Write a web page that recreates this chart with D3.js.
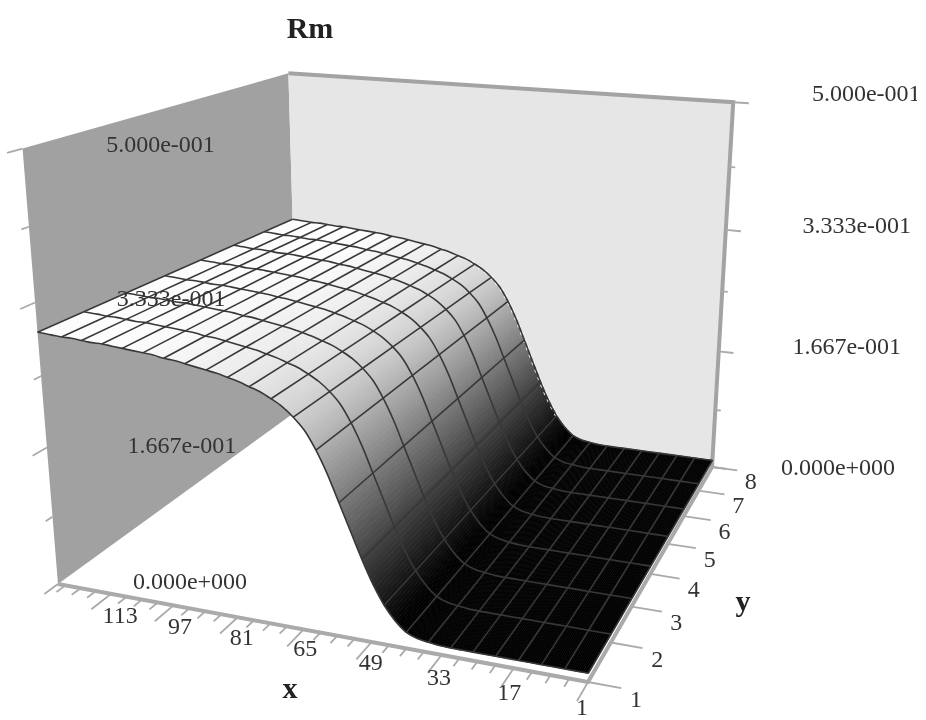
<!DOCTYPE html>
<html>
<head>
<meta charset="utf-8">
<script src="https://cdn.jsdelivr.net/npm/d3@7"></script>
<style>
  body { margin: 0; background: #fff; }
  svg { display: block; filter: blur(0.7px); }
  text { font-family: "Liberation Serif", serif; font-size: 24px; fill: #333; }
  .name { font-weight: bold; fill: #222; font-size: 30px; }
</style>
</head>
<body>
<div id="chart"></div>
<script>
// Rm, one value per mesh sample along x, with a small drop towards the back in y
const rmX = d3.range(1, 124, 2.5).concat(127);
const rmValues = [
  0.01, 0.01, 0.01, 0.01, 0.01, 0.01, 0.01, 0.01, 0.01, 0.01, 0.01, 0.01, 0.01,
  0.0105, 0.012, 0.014, 0.019, 0.03, 0.046, 0.068, 0.095, 0.125, 0.155, 0.185, 0.21, 0.23,
  0.243, 0.253, 0.26, 0.266, 0.27, 0.274, 0.277, 0.28, 0.282, 0.284, 0.286, 0.288, 0.289, 0.291,
  0.292, 0.293, 0.294, 0.295, 0.296, 0.296, 0.297, 0.298, 0.298, 0.299, 0.3
];
const yCats = [1, 2, 3, 4, 5, 6, 7, 8];
const yFactor = [1, 0.996, 0.992, 0.988, 0.984, 0.98, 0.976, 0.972];
const xTicks = [1, 17, 33, 49, 65, 81, 97, 113];
const zTicks = [0, 1 / 6, 1 / 3, 0.5];
const zLabels = ["0.000e+000", "1.667e-001", "3.333e-001", "5.000e-001"];
const zMinorTicks = [1 / 12, 0.25, 5 / 12];
const xEnd = 127, zTop = 0.5;

const xScale = d3.scaleLinear().domain([1, xEnd]).range([0, 1]);
const yScale = d3.scaleLinear().domain([1, 8]).range([0, 1]);
const zScale = d3.scaleLinear().domain([0, zTop]).range([0, 1]);
const shade = d3.scaleLinear().domain([0.025, 0.295]).range(["#000", "#fff"]).clamp(true);

// camera: floor corners and wall tops as seen in the picture
const floorFront = [588, 682], floorLeft = [58, 584], floorBack = [298, 410], floorRight = [712, 467];
const topLeft = [22, 150], topBack = [289, 77], topRight = [733, 97];

function floorMatrix(p0, p1, p2, p3) {
  const dx1 = p1[0] - p2[0], dx2 = p3[0] - p2[0], sx = p0[0] - p1[0] + p2[0] - p3[0];
  const dy1 = p1[1] - p2[1], dy2 = p3[1] - p2[1], sy = p0[1] - p1[1] + p2[1] - p3[1];
  const den = dx1 * dy2 - dx2 * dy1;
  const g = (sx * dy2 - dx2 * sy) / den, h = (dx1 * sy - sx * dy1) / den;
  return {
    a: p1[0] - p0[0] + g * p1[0], b: p3[0] - p0[0] + h * p3[0], c: p0[0],
    d: p1[1] - p0[1] + g * p1[1], e: p3[1] - p0[1] + h * p3[1], f: p0[1],
    g: g, h: h
  };
}
const H = floorMatrix(floorFront, floorLeft, floorBack, floorRight);

// height column, least squares on the three wall tops
function heightColumn() {
  const rows = [];
  [[1, 0, topLeft], [1, 1, topBack], [0, 1, topRight]].forEach(([u, v, s]) => {
    const X = H.a * u + H.b * v + H.c, Y = H.d * u + H.e * v + H.f, W = H.g * u + H.h * v + 1;
    rows.push([1, 0, -s[0], s[0] * W - X]);
    rows.push([0, 1, -s[1], s[1] * W - Y]);
  });
  const m = [0, 1, 2].map(i => [0, 1, 2, 3].map(j => d3.sum(rows, r => r[i] * r[j])));
  for (let i = 0; i < 3; i++) {
    for (let k = 0; k < 3; k++) {
      if (k === i) continue;
      const q = m[k][i] / m[i][i];
      for (let j = i; j < 4; j++) m[k][j] -= q * m[i][j];
    }
  }
  return [m[0][3] / m[0][0], m[1][3] / m[1][1], m[2][3] / m[2][2]];
}
const Z = heightColumn();

function project(x, y, z) {
  const u = xScale(x), v = yScale(y), w = zScale(z);
  const W = H.g * u + H.h * v + 1 + w * Z[2];
  return [
    (H.a * u + H.b * v + H.c + w * Z[0]) / W,
    (H.d * u + H.e * v + H.f + w * Z[1]) / W
  ];
}
// a surface point: height from the x profile, scaled by the row it sits on
const meshPoint = (x, yIdx, z) => project(x, yCats[yIdx], z * yFactor[yIdx]);

const svg = d3.select("#chart").append("svg").attr("width", 917).attr("height", 720);
const poly = pts => "M" + pts.map(p => p.join(",")).join("L") + "Z";

// walls
svg.append("path")
  .attr("d", poly([project(xEnd, 1, 0), project(xEnd, 1, zTop), project(xEnd, 8, zTop), project(xEnd, 8, 0)]))
  .attr("fill", "#a1a1a1");
svg.append("path")
  .attr("d", poly([project(xEnd, 8, 0), project(xEnd, 8, zTop), project(1, 8, zTop), project(1, 8, 0)]))
  .attr("fill", "#e6e6e6");

// axis frame
const frame = d3.line();
svg.append("path")
  .attr("d", frame([project(xEnd, 8, zTop), project(1, 8, zTop), project(1, 8, 0)]))
  .attr("fill", "none").attr("stroke", "#a3a3a3").attr("stroke-width", 4);
svg.append("path")
  .attr("d", frame([project(xEnd, 1, 0), project(1, 1, 0), project(1, 8, 0)]))
  .attr("fill", "none").attr("stroke", "#aaa").attr("stroke-width", 4);

function tick(a, b) {
  svg.append("line")
    .attr("x1", a[0]).attr("y1", a[1]).attr("x2", b[0]).attr("y2", b[1])
    .attr("stroke", "#aaa").attr("stroke-width", 1.8);
}
d3.range(1, xEnd, 4).forEach(x => {
  const major = (x - 1) % 16 === 0;
  tick(project(x, 1, 0), project(x, major ? 0.55 : 0.8, 0));
});
yCats.forEach(y => tick(project(1, y, 0), project(-6, y, 0)));
zTicks.forEach(z => {
  tick(project(1, 8, z), project(-3, 8, z));
  tick(project(xEnd, 1, z), project(xEnd, 0.7, z));
});
zMinorTicks.forEach(z => {
  tick(project(1, 8, z), project(-0.5, 8, z));
  tick(project(xEnd, 1, z), project(xEnd, 0.85, z));
});

// surface, far strips first; each sample gap is painted in thin bands so the shade runs smoothly
const surface = svg.append("g");
const bands = 6;
for (let i = rmX.length - 2; i >= 0; i--) {
  for (let k = bands - 1; k >= 0; k--) {
    const xa = d3.interpolateNumber(rmX[i], rmX[i + 1]), za = d3.interpolateNumber(rmValues[i], rmValues[i + 1]);
    const lo = yCats.map((y, j) => meshPoint(xa(k / bands), j, za(k / bands)));
    const hi = yCats.map((y, j) => meshPoint(xa((k + 1) / bands), j, za((k + 1) / bands)));
    const col = shade(za((k + 0.5) / bands));
    surface.append("path")
      .attr("d", poly(lo.concat(hi.reverse())))
      .attr("fill", col).attr("stroke", col).attr("stroke-width", 0.7);
  }
}

// mesh lines
const smooth = d3.line().curve(d3.curveCatmullRom);
// the far edge of the slope shows broken white specks in the picture
svg.append("path")
  .attr("d", smooth(rmX.map((x, i) => [x, rmValues[i]]).filter(d => d[1] > 0.045 && d[1] < 0.27)
    .map(d => meshPoint(d[0], 7, d[1]))))
  .attr("fill", "none").attr("stroke", "#fff").attr("stroke-width", 3.2).attr("stroke-dasharray", "3 5");

const mesh = svg.append("g").attr("fill", "none").attr("stroke", "#383838").attr("stroke-width", 1.6);
yCats.forEach((y, j) => {
  mesh.append("path").attr("d", smooth(rmX.map((x, i) => meshPoint(x, j, rmValues[i]))));
});
rmX.forEach((x, i) => {
  if (i % 2 === 0) {
    mesh.append("path").attr("d", d3.line()(yCats.map((y, j) => meshPoint(x, j, rmValues[i]))));
  }
});

// labels
const put = (p, dx, dy, s) => svg.append("text")
  .attr("x", p[0] + dx).attr("y", p[1] + dy).attr("text-anchor", "middle").text(s);

const rightDx = [126, 128, 131, 133], rightDy = [8, 3, 3, -1];
const leftDx = [132, 135, 136, 138], leftDy = [5, 6, 3, 3];
zTicks.forEach((z, i) => {
  put(project(1, 8, z), rightDx[i], rightDy[i], zLabels[i]);
  put(project(xEnd, 1, z), leftDx[i], leftDy[i], zLabels[i]);
});
const xLabelDx = d3.scaleLinear().domain([1, 49, 113]).range([-6, -1, 9]);
const xLabelDy = d3.scaleLinear().domain([1, 65, 113]).range([33, 27, 29]);
xTicks.forEach(x => put(project(x, 1, 0), xLabelDx(x), xLabelDy(x), x));
yCats.forEach(y => put(project(-7, y, 0), 10, 18, y));
const names = [["Rm", 310, 38], ["x", 290, 698], ["y", 743, 611]];
names.forEach(n => svg.append("text").attr("class", "name").attr("x", n[1]).attr("y", n[2])
  .attr("text-anchor", "middle").text(n[0]));
</script>
</body>
</html>
